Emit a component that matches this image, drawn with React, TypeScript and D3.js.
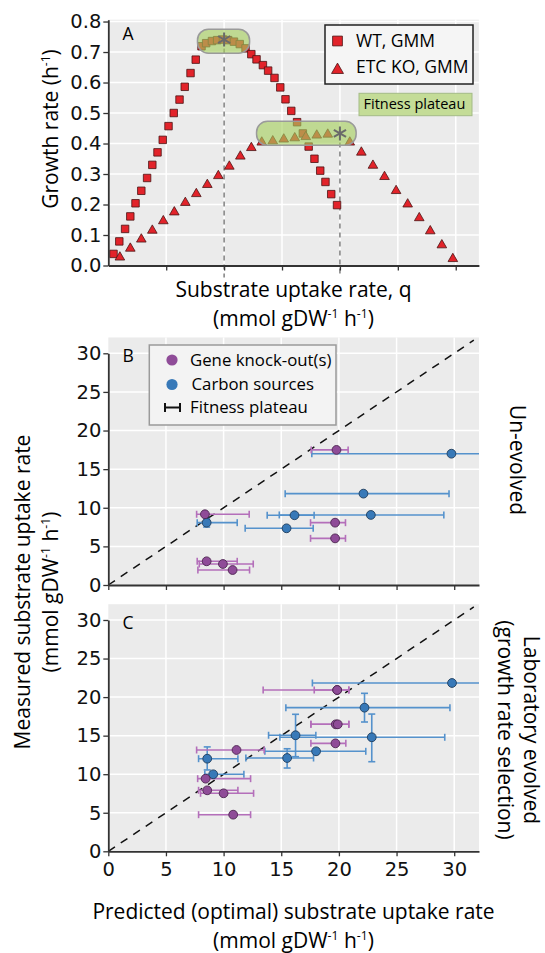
import React, { useRef, useEffect } from 'react'
import { select, scaleLinear, axisLeft, axisBottom, symbol, symbolSquare, symbolTriangle, symbolAsterisk } from 'd3'

// panel A - growth rate vs substrate uptake (x axis has no units shown)
const wtUptake = [0.09, 0.19, 0.29, 0.38, 0.47, 0.57, 0.67, 0.76, 0.85, 0.94, 1.04, 1.13, 1.23, 1.32, 1.42, 1.51, 1.61, 1.69, 1.79, 1.88, 1.98, 2.07, 2.17, 2.27, 2.37, 2.47, 2.56, 2.67, 2.76, 2.87, 2.97, 3.06, 3.16, 3.26, 3.36, 3.46, 3.56, 3.66, 3.75, 3.85, 3.95]
const wtGrowth = [0.038, 0.079, 0.120, 0.161, 0.204, 0.245, 0.287, 0.330, 0.371, 0.412, 0.457, 0.500, 0.544, 0.586, 0.631, 0.675, 0.719, 0.729, 0.736, 0.739, 0.741, 0.739, 0.734, 0.726, 0.712, 0.693, 0.676, 0.657, 0.639, 0.615, 0.584, 0.545, 0.507, 0.470, 0.433, 0.390, 0.350, 0.311, 0.274, 0.234, 0.198]
const koUptake = [0.2, 0.38, 0.57, 0.76, 0.95, 1.14, 1.33, 1.52, 1.71, 1.9, 2.09, 2.28, 2.47, 2.65, 2.84, 3.03, 3.22, 3.41, 3.6, 3.79, 4.17, 4.37, 4.57, 4.77, 4.97, 5.17, 5.37, 5.56, 5.76, 5.95]
const koGrowth = [0.027, 0.056, 0.086, 0.115, 0.146, 0.175, 0.206, 0.235, 0.265, 0.294, 0.325, 0.358, 0.386, 0.404, 0.408, 0.414, 0.418, 0.422, 0.427, 0.430, 0.404, 0.371, 0.328, 0.291, 0.245, 0.201, 0.156, 0.113, 0.067, 0.022]
const optimumUptake = [2, 4]
const optimumGrowth = [0.741, 0.433]
const plateauUptakeLo = [1.54, 2.56]
const plateauUptakeHi = [2.44, 4.28]
const plateauGrowthLo = [0.696, 0.394]
const plateauGrowthHi = [0.775, 0.473]
const growthTicks = [0, 0.1, 0.2, 0.3, 0.4, 0.5, 0.6, 0.7, 0.8]
const uptakeTicks = [1, 2, 3, 4, 5, 6]

// panel B - un-evolved
const koPredB = [19.79, 8.38, 19.67, 19.67, 8.53, 9.94, 10.78]
const koMeasB = [17.49, 9.16, 8.07, 6.04, 3.07, 2.72, 1.94]
const koLoB = [17.6, 7.66, 17.54, 17.54, 7.71, 7.89, 7.77]
const koHiB = [20.8, 12.22, 20.57, 20.57, 11.18, 12.57, 12.25]
const cPredB = [8.53, 16.15, 15.46, 22.77, 22.13, 29.76]
const cMeasB = [8.07, 9.03, 7.34, 9.07, 11.83, 17.0]
const cLoB = [7.71, 13.78, 11.87, 14.83, 15.34, 17.65]
const cHiB = [11.18, 17.85, 17.77, 29.1, 29.55, 34]
const cMeasLoB = [7.5, null, null, null, null, null]
const cMeasHiB = [8.6, null, null, null, null, null]

// panel C - laboratory evolved
const koPredC = [19.85, 19.85, 19.73, 19.9, 19.7, 11.12, 8.44, 8.58, 10.0, 10.83]
const koMeasC = [20.92, 20.92, 16.47, 16.47, 14.0, 13.14, 9.42, 7.91, 7.52, 4.75]
const koLoC = [13.43, 17.86, 17.57, 17.57, 17.57, 7.66, 7.75, 7.83, 8.0, 7.83]
const koHiC = [20.86, 20.86, 20.86, 20.86, 20.6, 13.52, 12.34, 11.24, 12.6, 12.34]
const cPredC = [8.58, 9.1, 16.24, 15.51, 18.02, 22.22, 22.85, 29.81]
const cMeasC = [12.01, 9.99, 15.05, 12.1, 12.97, 18.63, 14.79, 21.83]
const cLoC = [7.83, 8.37, 13.9, 11.93, 13.58, 15.4, 14.88, 17.7]
const cHiC = [11.24, 11.76, 18.0, 17.8, 22.33, 29.63, 29.18, 34]
const cMeasLoC = [10.55, null, 12.27, 10.8, null, 16.77, 11.62, null]
const cMeasHiC = [13.54, null, 17.77, 13.3, null, 20.49, 17.8, null]

const rateTicks = [0, 5, 10, 15, 20, 25, 30]

const titleFont = "'Open Sans', sans-serif"
const tickFont = "'DejaVu Sans', sans-serif"
const purple = '#8f4c98'
const purpleBar = '#b46fba'
const blue = '#3879b8'
const blueBar = '#5592cc'
const red = '#e2232a'

const App = () => {
    const svgRef = useRef()

    useEffect(() => {
        const svg = select(svgRef.current)
        svg.selectAll('*').remove()

        const units = (sel, size) => {
            sel.append('tspan').text('(mmol gDW')
            sel.append('tspan').attr('dy', -size * 0.4).attr('font-size', size * 0.58).text('-1')
            sel.append('tspan').attr('dy', size * 0.4).text(' h')
            sel.append('tspan').attr('dy', -size * 0.4).attr('font-size', size * 0.58).text('-1')
            sel.append('tspan').attr('dy', size * 0.4).text(')')
        }

        const styleAxis = (g) => {
            g.select('.domain').attr('stroke', '#333').attr('stroke-width', 1.8)
            g.selectAll('.tick line').attr('stroke', '#333').attr('stroke-width', 1.3)
            g.selectAll('.tick text').attr('font-family', tickFont).attr('font-size', 19.5).attr('fill', '#111')
        }

        // ---------- panel A ----------
        const xA = scaleLinear().domain([0, 6.4]).range([108.3, 478.9])
        const yA = scaleLinear().domain([0, 0.806]).range([265.5, 19.7])
        const gA = svg.append('g')

        gA.append('rect')
            .attr('x', xA(0)).attr('y', yA(0.806))
            .attr('width', xA(6.4) - xA(0)).attr('height', yA(0) - yA(0.806))
            .attr('fill', '#ebebeb')

        gA.selectAll('.hgrid').data(growthTicks.slice(1)).join('line')
            .attr('x1', xA(0)).attr('x2', xA(6.4))
            .attr('y1', d => yA(d)).attr('y2', d => yA(d))
            .attr('stroke', '#fff').attr('stroke-width', 1.5)
        gA.selectAll('.vgrid').data(uptakeTicks).join('line')
            .attr('x1', d => xA(d)).attr('x2', d => xA(d))
            .attr('y1', yA(0)).attr('y2', yA(0.806))
            .attr('stroke', '#fff').attr('stroke-width', 1.5)

        gA.selectAll('.optline').data(optimumUptake).join('line')
            .attr('x1', d => xA(d)).attr('x2', d => xA(d))
            .attr('y1', (d, i) => yA(optimumGrowth[i])).attr('y2', yA(0) + 12)
            .attr('stroke', '#777').attr('stroke-width', 1.4)
            .attr('stroke-dasharray', '5,4')

        gA.selectAll('.wt').data(wtUptake).join('path')
            .attr('d', symbol(symbolSquare, 56)())
            .attr('transform', (d, i) => `translate(${xA(d)},${yA(wtGrowth[i])})`)
            .attr('fill', red).attr('stroke', '#4a1414').attr('stroke-width', 0.8)

        gA.selectAll('.ko').data(koUptake).join('path')
            .attr('d', symbol(symbolTriangle, 40)())
            .attr('transform', (d, i) => `translate(${xA(d)},${yA(koGrowth[i])})`)
            .attr('fill', red).attr('stroke', '#4a1414').attr('stroke-width', 0.8)

        gA.selectAll('.plateau').data(plateauUptakeLo).join('rect')
            .attr('x', d => xA(d))
            .attr('y', (d, i) => yA(plateauGrowthHi[i]))
            .attr('width', (d, i) => xA(plateauUptakeHi[i]) - xA(d))
            .attr('height', (d, i) => yA(plateauGrowthLo[i]) - yA(plateauGrowthHi[i]))
            .attr('rx', 11)
            .attr('fill', 'rgba(165,206,92,0.62)')
            .attr('stroke', '#9a9a9a').attr('stroke-width', 1.5)

        gA.selectAll('.star').data(optimumUptake).join('path')
            .attr('d', symbol(symbolAsterisk, 140)())
            .attr('transform', (d, i) => `translate(${xA(d)},${yA(optimumGrowth[i])})`)
            .attr('fill', 'none').attr('stroke', '#6a6a6a').attr('stroke-width', 2)

        gA.append('g')
            .attr('transform', `translate(${xA(0)},0)`)
            .call(axisLeft(yA).tickValues(growthTicks).tickFormat(d => d.toFixed(1)).tickSize(5).tickSizeOuter(0).tickPadding(2))
            .call(styleAxis)
        gA.append('g')
            .attr('transform', `translate(0,${yA(0)})`)
            .call(axisBottom(xA).tickValues(uptakeTicks).tickFormat(() => '').tickSize(5).tickSizeOuter(0))
            .call(styleAxis)

        gA.append('text').attr('x', 122.5).attr('y', 39.5)
            .attr('font-family', titleFont).attr('font-size', 17.5).text('A')

        // legend A
        gA.append('rect').attr('x', 325).attr('y', 25).attr('width', 148).attr('height', 59)
            .attr('fill', '#f5f5f5').attr('stroke', '#222').attr('stroke-width', 1.5)
        gA.append('path').attr('d', symbol(symbolSquare, 96)())
            .attr('transform', 'translate(337.5,41)')
            .attr('fill', red).attr('stroke', '#4a1414').attr('stroke-width', 0.8)
        gA.append('path').attr('d', symbol(symbolTriangle, 62)())
            .attr('transform', 'translate(337.5,70)')
            .attr('fill', red).attr('stroke', '#4a1414').attr('stroke-width', 0.8)
        gA.append('text').attr('x', 356).attr('y', 46.5)
            .attr('font-family', titleFont).attr('font-size', 17.5).text('WT, GMM')
        gA.append('text').attr('x', 356).attr('y', 73)
            .attr('font-family', titleFont).attr('font-size', 17.5).text('ETC KO, GMM')
        gA.append('rect').attr('x', 359).attr('y', 93.3).attr('width', 113).attr('height', 22.4)
            .attr('fill', '#c4dc97').attr('stroke', '#a3bb86').attr('stroke-width', 1)
        gA.append('text').attr('x', 363.5).attr('y', 108.8)
            .attr('font-family', titleFont).attr('font-size', 14.5).text('Fitness plateau')

        // titles A
        const gt = gA.append('text')
            .attr('transform', 'translate(58,129) rotate(-90)')
            .attr('text-anchor', 'middle')
            .attr('font-family', titleFont).attr('font-size', 21)
        gt.append('tspan').text('Growth rate (h')
        gt.append('tspan').attr('dy', -8.5).attr('font-size', 12).text('-1')
        gt.append('tspan').attr('dy', 8.5).text(')')

        gA.append('text').attr('x', 293.5).attr('y', 297)
            .attr('text-anchor', 'middle').attr('font-family', titleFont).attr('font-size', 21)
            .text('Substrate uptake rate, q')
        gA.append('text').attr('x', 293.5).attr('y', 326)
            .attr('text-anchor', 'middle').attr('font-family', titleFont).attr('font-size', 21)
            .call(units, 21)

        // ---------- panels B and C ----------
        const xS = scaleLinear().domain([0, 32.15]).range([108.3, 479])

        const drawPanel = (yS, letter, ko, carbon, showLabels) => {
            const g = svg.append('g')
            const top = 32.05
            const right = 32.15
            g.append('rect')
                .attr('x', xS(0)).attr('y', yS(top))
                .attr('width', xS(right) - xS(0)).attr('height', yS(0) - yS(top))
                .attr('fill', '#ebebeb')
            g.selectAll('.hgrid').data(rateTicks.slice(1)).join('line')
                .attr('x1', xS(0)).attr('x2', xS(right))
                .attr('y1', d => yS(d)).attr('y2', d => yS(d))
                .attr('stroke', '#fff').attr('stroke-width', 1.5)
            g.selectAll('.vgrid').data(rateTicks.slice(1)).join('line')
                .attr('x1', d => xS(d)).attr('x2', d => xS(d))
                .attr('y1', yS(0)).attr('y2', yS(top))
                .attr('stroke', '#fff').attr('stroke-width', 1.5)

            g.append('line')
                .attr('x1', xS(0)).attr('y1', yS(0))
                .attr('x2', xS(31.7)).attr('y2', yS(31.7))
                .attr('stroke', '#111').attr('stroke-width', 1.5)
                .attr('stroke-dasharray', '8,7')

            const bars = (s, colour) => {
                const hb = g.append('g').attr('stroke', colour).attr('stroke-width', 1.6).attr('fill', 'none')
                s.pred.forEach((p, i) => {
                    const y = yS(s.meas[i])
                    const x1 = xS(s.lo[i])
                    const x2 = xS(Math.min(s.hi[i], right))
                    hb.append('line').attr('x1', x1).attr('x2', x2).attr('y1', y).attr('y2', y)
                    hb.append('line').attr('x1', x1).attr('x2', x1).attr('y1', y - 3.5).attr('y2', y + 3.5)
                    if (s.hi[i] <= right) {
                        hb.append('line').attr('x1', x2).attr('x2', x2).attr('y1', y - 3.5).attr('y2', y + 3.5)
                    }
                    if (s.mLo && s.mLo[i] != null) {
                        const x = xS(p)
                        const ya = yS(s.mLo[i])
                        const yb = yS(s.mHi[i])
                        hb.append('line').attr('x1', x).attr('x2', x).attr('y1', ya).attr('y2', yb)
                        hb.append('line').attr('x1', x - 3.5).attr('x2', x + 3.5).attr('y1', ya).attr('y2', ya)
                        hb.append('line').attr('x1', x - 3.5).attr('x2', x + 3.5).attr('y1', yb).attr('y2', yb)
                    }
                })
            }
            bars(carbon, blueBar)
            bars(ko, purpleBar)

            g.selectAll('.cpt').data(carbon.pred).join('circle')
                .attr('cx', d => xS(d)).attr('cy', (d, i) => yS(carbon.meas[i])).attr('r', 4.4)
                .attr('fill', blue).attr('stroke', '#1f3d5c').attr('stroke-width', 0.9)
            g.selectAll('.kpt').data(ko.pred).join('circle')
                .attr('cx', d => xS(d)).attr('cy', (d, i) => yS(ko.meas[i])).attr('r', 4.4)
                .attr('fill', purple).attr('stroke', '#4d2650').attr('stroke-width', 0.9)

            g.append('g')
                .attr('transform', `translate(${xS(0)},0)`)
                .call(axisLeft(yS).tickValues(rateTicks).tickSize(5).tickSizeOuter(0).tickPadding(2))
                .call(styleAxis)
            g.append('g')
                .attr('transform', `translate(0,${yS(0)})`)
                .call(axisBottom(xS).tickValues(rateTicks).tickSize(5).tickSizeOuter(0).tickPadding(6)
                    .tickFormat(d => (showLabels ? d : '')))
                .call(styleAxis)

            g.append('text').attr('x', 122.5).attr('y', yS(32.05) + 25)
                .attr('font-family', titleFont).attr('font-size', 17.5).text(letter)
            return g
        }

        const yB = scaleLinear().domain([0, 30]).range([585, 353.3])
        const yC = scaleLinear().domain([0, 30]).range([851.3, 620])

        const gB = drawPanel(yB, 'B',
            { pred: koPredB, meas: koMeasB, lo: koLoB, hi: koHiB },
            { pred: cPredB, meas: cMeasB, lo: cLoB, hi: cHiB, mLo: cMeasLoB, mHi: cMeasHiB },
            false)
        drawPanel(yC, 'C',
            { pred: koPredC, meas: koMeasC, lo: koLoC, hi: koHiC },
            { pred: cPredC, meas: cMeasC, lo: cLoC, hi: cHiC, mLo: cMeasLoC, mHi: cMeasHiC },
            true)

        // legend B
        gB.append('rect').attr('x', 149.3).attr('y', 345).attr('width', 186.7).attr('height', 80)
            .attr('fill', '#f3f3f3').attr('stroke', '#9a9a9a').attr('stroke-width', 1.5)
        gB.append('circle').attr('cx', 172).attr('cy', 360).attr('r', 5.6).attr('fill', purple)
        gB.append('circle').attr('cx', 172).attr('cy', 384.5).attr('r', 5.6).attr('fill', blue)
        const leg = gB.append('g').attr('stroke', '#111').attr('stroke-width', 2)
        leg.append('line').attr('x1', 165).attr('x2', 180).attr('y1', 407.5).attr('y2', 407.5)
        leg.append('line').attr('x1', 165).attr('x2', 165).attr('y1', 403).attr('y2', 412)
        leg.append('line').attr('x1', 180).attr('x2', 180).attr('y1', 403).attr('y2', 412)
        const legText = ['Gene knock-out(s)', 'Carbon sources', 'Fitness plateau']
        const legY = [365.7, 390, 413]
        gB.selectAll('.legtext').data(legText).join('text')
            .attr('x', (d, i) => (i === 1 ? 191.5 : 190)).attr('y', (d, i) => legY[i])
            .attr('font-family', titleFont).attr('font-size', 16.8)
            .text(d => d)

        // side titles
        svg.append('text').attr('transform', 'translate(30,592) rotate(-90)')
            .attr('text-anchor', 'middle').attr('font-family', titleFont).attr('font-size', 21)
            .text('Measured substrate uptake rate')
        svg.append('text').attr('transform', 'translate(58,592) rotate(-90)')
            .attr('text-anchor', 'middle').attr('font-family', titleFont).attr('font-size', 21)
            .call(units, 21)

        svg.append('text').attr('transform', 'translate(510,460) rotate(90)')
            .attr('text-anchor', 'middle').attr('font-family', titleFont).attr('font-size', 21)
            .text('Un-evolved')
        svg.append('text').attr('transform', 'translate(524,730) rotate(90)')
            .attr('text-anchor', 'middle').attr('font-family', titleFont).attr('font-size', 21)
            .text('Laboratory evolved')
        svg.append('text').attr('transform', 'translate(498,730) rotate(90)')
            .attr('text-anchor', 'middle').attr('font-family', titleFont).attr('font-size', 21)
            .text('(growth rate selection)')

        svg.append('text').attr('x', 293.5).attr('y', 919)
            .attr('text-anchor', 'middle').attr('font-family', titleFont).attr('font-size', 21)
            .text('Predicted (optimal) substrate uptake rate')
        svg.append('text').attr('x', 293.5).attr('y', 948)
            .attr('text-anchor', 'middle').attr('font-family', titleFont).attr('font-size', 21)
            .call(units, 21)
    }, [])

    return (
        <svg ref={svgRef} width={545} height={953}
            style={{ position: 'absolute', left: 0, top: 0, background: '#fff' }} />
    )
}

export default App
